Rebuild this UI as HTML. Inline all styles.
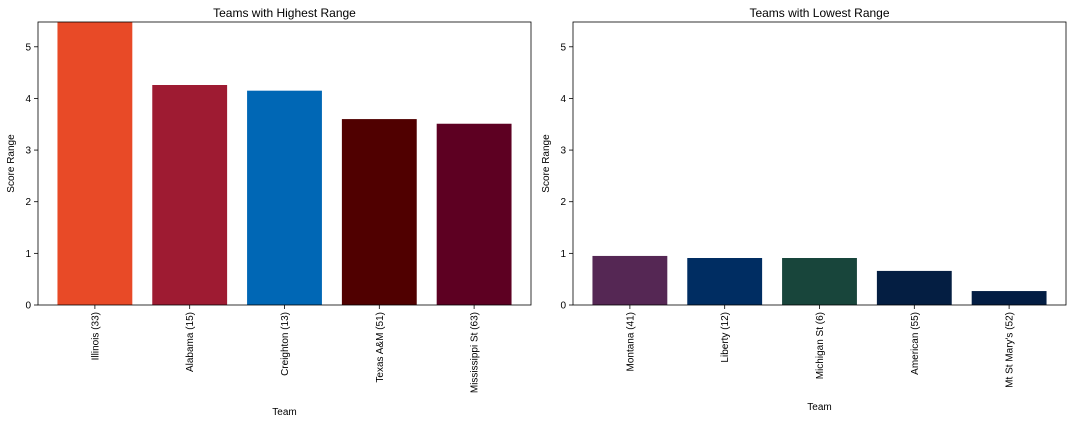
<!DOCTYPE html>
<html><head><meta charset="utf-8"><style>
body{margin:0;background:#fff;font-family:"Liberation Sans","DejaVu Sans",sans-serif;}
svg text{font-family:"Liberation Sans","DejaVu Sans",sans-serif;fill:#000;}
</style></head><body>
<svg id="chart" width="1072" height="424" xmlns="http://www.w3.org/2000/svg"></svg>
<script>
const highTeams=["Illinois (33)","Alabama (15)","Creighton (13)","Texas A&M (51)","Mississippi St (63)"];
const highValues=[5.48,4.26,4.15,3.60,3.51];
const highColors=["#E84A27","#9E1B32","#0067B5","#500000","#5D0022"];
const lowTeams=["Montana (41)","Liberty (12)","Michigan St (6)","American (55)","Mt St Mary's (52)"];
const lowValues=[0.95,0.91,0.91,0.66,0.27];
const lowColors=["#552754","#002D62","#18453B","#041E42","#031D43"];
const yTicks=[0,1,2,3,4,5];
const yMax=5.48;
const svg=document.getElementById('chart');
const NS="http://www.w3.org/2000/svg";
function mk(t,a,txt){const e=document.createElementNS(NS,t);for(const k in a)e.setAttribute(k,a[k]);if(txt!==undefined)e.textContent=txt;svg.appendChild(e);return e;}
function panel(x0,title,teams,vals,cols,key,xTitleY){
  const top=22,bot=305,w=493;
  const y=v=>bot-(v/yMax)*(bot-top);
  const xs=i=>x0+(i+0.6)/5.2*w;
  const bw=0.8/5.2*w-1;
  vals.forEach((v,i)=>{
    const r=mk('rect',{x:xs(i)-bw/2,y:y(v),width:bw,height:bot-y(v),fill:cols[i]});
    
    
    mk('line',{x1:xs(i),x2:xs(i),y1:bot,y2:bot+4,stroke:'#000','stroke-width':0.8});
    const t=mk('text',{x:0,y:0,'font-size':10,'text-anchor':'end',transform:`translate(${xs(i)+3.5},${bot+7}) rotate(-90)`},teams[i]);
    
    
  });
  yTicks.forEach(v=>{
    mk('line',{x1:x0-4,x2:x0,y1:y(v),y2:y(v),stroke:'#000','stroke-width':0.8});
    const t=mk('text',{x:x0-7,y:y(v)+3.5,'font-size':10,'text-anchor':'end'},String(v));
    
    
  });
  const f=mk('rect',{x:x0,y:top,width:w,height:bot-top,fill:'none',stroke:'#000','stroke-width':0.8});
  
  const tt=mk('text',{x:x0+w/2,y:17,'font-size':12,'text-anchor':'middle'},title);
  
  const xl=mk('text',{x:x0+w/2,y:xTitleY,'font-size':10,'text-anchor':'middle'},'Team');
  
  const yl=mk('text',{x:0,y:0,'font-size':10,'text-anchor':'middle',transform:`translate(${x0-24},${(top+bot)/2}) rotate(-90)`},'Score Range');
  
}
panel(38,'Teams with Highest Range',highTeams,highValues,highColors,'high',415);
panel(573,'Teams with Lowest Range',lowTeams,lowValues,lowColors,'low',410);
</script>
</body></html>
